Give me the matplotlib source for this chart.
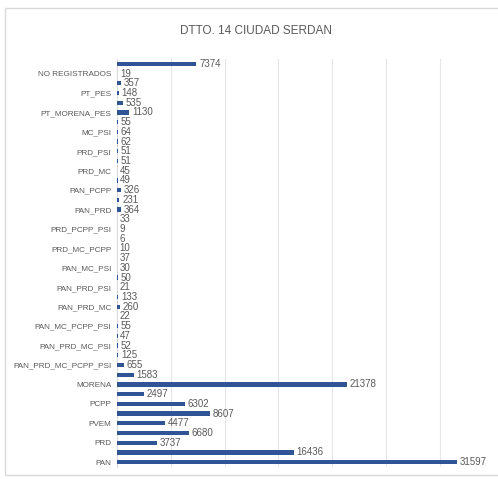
import numpy as np
import matplotlib.pyplot as plt
from matplotlib.patches import Rectangle

# categories listed bottom to top, as in the sheet
partidos = ["PAN", "PRI", "PRD", "PT", "PVEM", "MC", "PCPP", "PSI", "MORENA", "PES",
            "PAN_PRD_MC_PCPP_PSI", "PAN_PRD_MC_PCPP", "PAN_PRD_MC_PSI", "PAN_PRD_PCPP_PSI",
            "PAN_MC_PCPP_PSI", "PRD_MC_PCPP_PSI", "PAN_PRD_MC", "PAN_PRD_PCPP",
            "PAN_PRD_PSI", "PAN_MC_PCPP", "PAN_MC_PSI", "PAN_PCPP_PSI", "PRD_MC_PCPP",
            "PRD_MC_PSI", "PRD_PCPP_PSI", "MC_PCPP_PSI", "PAN_PRD", "PAN_MC", "PAN_PCPP",
            "PAN_PSI", "PRD_MC", "PRD_PCPP", "PRD_PSI", "MC_PCPP", "MC_PSI", "PCPP_PSI",
            "PT_MORENA_PES", "PT_MORENA", "PT_PES", "MORENA_PES", "NO REGISTRADOS", "NULOS"]
votos = [31597, 16436, 3737, 6680, 4477, 8607, 6302, 2497, 21378, 1583,
         655, 125, 52, 47, 55, 22, 260, 133, 21, 50,
         30, 37, 10, 6, 9, 33, 364, 231, 326, 49,
         45, 51, 51, 62, 64, 55, 1130, 535, 148, 357,
         19, 7374]

plt.rcParams['font.family'] = ['Liberation Sans Narrow', 'Liberation Sans', 'DejaVu Sans']
gris = '#595959'
azul = '#2F5597'

fig = plt.figure(figsize=(4.98, 4.79), dpi=100)
fig.patches.append(Rectangle((5 / 498, 4 / 479), 1.0, 467 / 479, transform=fig.transFigure,
                             fill=False, edgecolor='#d9d9d9', linewidth=1))
ax = fig.add_axes([117 / 498, 12 / 479, 376.6 / 498, 408 / 479])

y = np.arange(len(partidos))
ax.barh(y, votos, height=0.45, color=azul, zorder=3)
for yi, v in zip(y, votos):
    ax.text(v + 250, yi, str(v), va='center', ha='left', fontsize=7, color=gris)

ax.set_xlim(0, 35000)
ax.set_ylim(-0.5, len(partidos) - 0.5)
ax.set_xticks(np.arange(0, 35001, 5000))
ax.set_xticklabels([])
ax.tick_params(axis='x', length=0)
ax.grid(axis='x', color='#e6e6e6', linewidth=0.8, zorder=0)
ax.set_yticks(y[::2])
ax.set_yticklabels(partidos[::2], fontsize=5.9, color=gris)
ax.tick_params(axis='y', length=0, pad=4)
for s in ['top', 'right', 'bottom']:
    ax.spines[s].set_visible(False)
ax.spines['left'].set_color('#d9d9d9')

fig.text(256 / 498, 1 - 31 / 479, "DTTO. 14 CIUDAD SERDAN", ha='center', va='center',
         fontsize=8.5, color=gris)

fig.savefig("out.png", dpi=100)
